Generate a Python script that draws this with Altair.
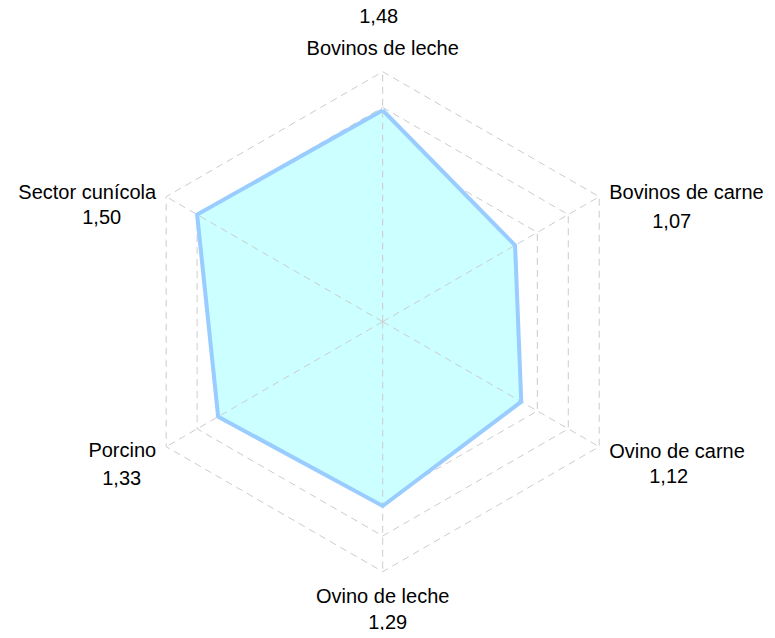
import math
import altair as alt
import pandas as pd

# ---- data ----
categories = ["Bovinos de leche", "Bovinos de carne", "Ovino de carne",
              "Ovino de leche", "Porcino", "Sector cunícola"]
values = [1.48, 1.07, 1.12, 1.29, 1.33, 1.50]
value_labels = ["1,48", "1,07", "1,12", "1,29", "1,33", "1,50"]
grid_levels = [0.25, 0.5, 0.75, 1.0, 1.25, 1.5, 1.75]
r_max = 1.75

# ---- layout ----
W, H = 759, 622
K = 250 / r_max            # px per unit
cx, cy = 374.7, 313.7      # centre of the radar in chart px
xdom = [-cx / K, (W - cx) / K]
ydom = [-(H - cy) / K, cy / K]

def ang(i):
    return math.radians(90 - 60 * i)

n = len(categories)

rings = []
for L in grid_levels:
    for j in range(n + 1):
        a = ang(j % n)
        rings.append({"level": L, "o": j, "x": L * math.cos(a), "y": L * math.sin(a)})
rings = pd.DataFrame(rings)

spokes = []
for i in range(n):
    a = ang(i)
    spokes.append({"k": i, "o": 0, "x": 0.0, "y": 0.0})
    spokes.append({"k": i, "o": 1, "x": r_max * math.cos(a), "y": r_max * math.sin(a)})
spokes = pd.DataFrame(spokes)

poly = []
for j in range(n + 1):
    i = j % n
    a = ang(i)
    poly.append({"o": j, "cat": categories[i], "v": values[i],
                 "x": values[i] * math.cos(a), "y": values[i] * math.sin(a)})
poly = pd.DataFrame(poly)

# label placement: offsets (px) from the outer vertex of each axis
name_off = [(0, 23), (10, 4), (10, 5), (0, 25), (-10, 4), (-10, 4)]   # (outward x, outward y)
name_align = ["center", "left", "left", "center", "right", "right"]
val_off = [(-4, -305), (289, -100), (286, 155), (5, 301), (-261, 157), (-281, -104)]

names = []
vals = []
for i in range(n):
    a = ang(i)
    vx, vy = r_max * math.cos(a), r_max * math.sin(a)
    sx = 0 if abs(vx) < 1e-9 else (1 if vx > 0 else -1)
    sy = 1 if vy > 0 else -1
    names.append({"t": categories[i], "align": name_align[i],
                  "x": vx + sx * abs(name_off[i][0]) / K,
                  "y": vy + sy * name_off[i][1] / K})
    vals.append({"t": value_labels[i], "x": val_off[i][0] / K, "y": -val_off[i][1] / K})
names = pd.DataFrame(names)
vals = pd.DataFrame(vals)

X = alt.X("x:Q", scale=alt.Scale(domain=xdom, nice=False, zero=False), axis=None)
Y = alt.Y("y:Q", scale=alt.Scale(domain=ydom, nice=False, zero=False), axis=None)

grid_color = "#cccccc"
dash = [7, 5]

ring_layer = alt.Chart(rings).mark_line(color=grid_color, strokeWidth=1, strokeDash=dash).encode(
    x=X, y=Y, detail="level:N", order="o:Q")

fill_layer = alt.Chart(poly).mark_line(fill="#ccffff", fillOpacity=1, strokeOpacity=0,
                                       interpolate="linear-closed").encode(
    x=X, y=Y, order="o:Q")

spoke_layer = alt.Chart(spokes).mark_line(color=grid_color, strokeWidth=1, strokeDash=dash).encode(
    x=X, y=Y, detail="k:N", order="o:Q")

outline_layer = alt.Chart(poly).mark_line(color="#99ccff", strokeWidth=4, strokeJoin="miter").encode(
    x=X, y=Y, order="o:Q")

font = "Liberation Sans"
txt = dict(font=font, fontSize=20, color="#000000", baseline="middle")

name_layers = []
for al in ["center", "left", "right"]:
    name_layers.append(
        alt.Chart(names[names["align"] == al]).mark_text(align=al, **txt).encode(
            x=X, y=Y, text="t:N"))

val_layer = alt.Chart(vals).mark_text(align="center", **txt).encode(x=X, y=Y, text="t:N")

chart = alt.layer(ring_layer, fill_layer, spoke_layer, outline_layer, *name_layers, val_layer).properties(
    width=W, height=H, autosize=alt.AutoSizeParams(type="none"), padding=0
).configure_view(stroke=None)

chart.save("out.html", embed_options={"renderer": "svg", "actions": False})
